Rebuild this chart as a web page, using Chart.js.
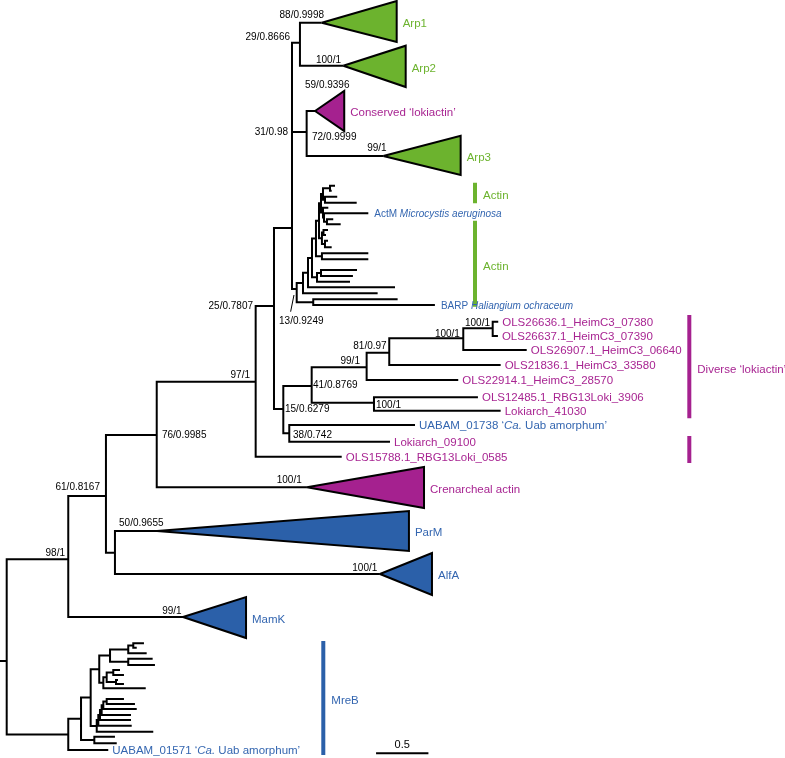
<!DOCTYPE html>
<html><head><meta charset="utf-8">
<script src="https://cdn.jsdelivr.net/npm/chart.js@4.4.1/dist/chart.umd.min.js"></script>
<style>html,body{margin:0;padding:0;background:#fff;}canvas{display:block;}</style>
</head><body>
<canvas id="c" width="785" height="758"></canvas>
<script>
// ---- DATA: nodes [id, parent, distance from root (subst./site), vertical slot] ----
const backboneNodes = [
  ['root', null, 0, 66.1],
  ['n98', 'root', 0.588, 55.93],
  ['nMB', 'root', 0.588, 73.44],
  ['n61', 'n98', 0.948, 49.6],
  ['MamK', 'n98', 1.684, 61.7],
  ['n76', 'n61', 1.433, 43.5],
  ['nPA', 'n61', 1.034, 55.27],
  ['ParM', 'nPA', 1.436, 53.1],
  ['AlfA', 'nPA', 3.565, 57.4],
  ['n97', 'n76', 2.378, 38.17],
  ['Cren', 'n76', 2.868, 48.73],
  ['nP', 'n97', 2.553, 30.6],
  ['OLS15788', 'n97', 3.200, 45.67],
  ['nQ', 'nP', 2.725, 22.8],
  ['nR', 'nP', 2.642, 40.9],
  ['n29', 'nQ', 2.801, 4.27],
  ['n31', 'nQ', 2.865, 13.2],
  ['AR', 'nQ', 2.770, 28.9],
  ['Arp1', 'n29', 3.009, 2.27],
  ['Arp2', 'n29', 3.215, 6.57],
  ['Cons', 'n31', 2.945, 11.1],
  ['Arp3', 'n31', 3.597, 15.6],
  ['n41', 'nR', 2.913, 38.6],
  ['n38', 'nR', 2.699, 43.33],
  ['n99', 'n41', 3.438, 36.73],
  ['n100b', 'n41', 3.508, 40.27],
  ['n81', 'n99', 3.654, 35.27],
  ['OLS22914', 'n99', 4.313, 38.0],
  ['n100a', 'n81', 4.361, 33.83],
  ['OLS21836', 'n81', 4.718, 36.5],
  ['n100c', 'n100a', 4.642, 32.83],
  ['OLS26907', 'n100a', 4.967, 35.0],
  ['OLS26636', 'n100c', 4.695, 32.17],
  ['OLS26637', 'n100c', 4.692, 33.6],
  ['OLS12485', 'n100b', 4.501, 39.73],
  ['Loki41030', 'n100b', 4.718, 41.07],
  ['UABAM01738', 'n38', 3.900, 42.5],
  ['Loki09100', 'n38', 3.661, 44.17]
];
const actinNodes = [
  ['A1','AR',2.830,28.3], ['BB','AR',2.928,30.22],
  ['A2','A1',2.878,27.27], ['a18','A1',3.543,29.33],
  ['a19','BB',3.734,29.93], ['BARP','BB',4.090,30.5],
  ['A3','A2',2.916,25.8], ['a17','A2',3.709,28.73],
  ['A4','A3',2.954,23.86], ['A5','A3',2.964,27.73],
  ['A6','A5',3.002,27.3], ['a16','A5',3.279,28.17],
  ['a14','A6',3.346,27.0], ['a15','A6',3.307,27.6],
  ['A7','A4',2.983,22.08], ['A8','A4',3.011,25.63],
  ['a12','A8',3.454,25.33], ['a13','A8',3.454,25.93],
  ['A9','A7',3.002,20.33], ['A10','A7',3.011,23.83],
  ['A13','A9',3.021,19.4], ['A14','A9',3.021,21.26],
  ['A15','A13',3.088,18.82], ['A16','A13',3.040,19.97],
  ['u1','A15',3.136,18.57], ['u2','A15',3.104,19.07],
  ['u3','A16',3.157,19.67], ['u4','A16',3.343,20.27],
  ['u5','A14',3.072,20.77], ['A17','A14',3.031,21.75],
  ['ActM','A17',3.454,21.33], ['A18','A17',3.059,22.18],
  ['u7','A18',3.119,21.93], ['u8','A18',3.190,22.43],
  ['A11','A10',3.026,23.25], ['A12','A10',3.040,24.4],
  ['u9','A11',3.069,23.0], ['u10','A11',3.050,23.5],
  ['u11','A12',3.069,24.07], ['u12','A12',3.104,24.73]
];
const mrebNodes = [
  ['M1','nMB',0.710,71.88], ['UABAM01571','nMB',0.970,75.0],
  ['M2','M1',0.802,69.76], ['M3','M1',0.837,74.0],
  ['m1','M3',1.034,73.67], ['m2','M3',1.051,74.33],
  ['M4','M2',0.884,66.92], ['M5','M2',0.860,72.6],
  ['M6','M4',0.987,65.56], ['M7','M4',0.923,68.28],
  ['M8','M6',1.161,64.94], ['M9','M6',1.161,66.18],
  ['M10','M8',1.209,64.55], ['m3','M10',1.311,64.33], ['m4','M10',1.242,64.77],
  ['m5','M8',1.337,65.33], ['m6','M9',1.394,65.87], ['m7','M9',1.416,66.5],
  ['M11','M7',0.955,67.73], ['m8','M7',1.328,68.83],
  ['M12','M11',1.018,67.25], ['M13','M11',1.044,68.2],
  ['m9','M12',1.082,67.0], ['m10','M12',1.120,67.5],
  ['m11','M13',1.063,68.0], ['m12','M13',1.120,68.4],
  ['M5b','M5',0.875,72.0], ['m13','M5',1.400,73.17],
  ['M14','M5b',0.891,71.5], ['m14','M5b',1.194,72.57],
  ['M15','M14',0.907,71.0], ['m15','M14',1.187,72.0],
  ['M16','M15',0.923,70.53], ['m16','M15',1.187,71.5],
  ['M17','M16',0.955,70.15], ['m17','M16',1.242,70.9],
  ['m18','M17',1.120,69.9], ['m19','M17',1.225,70.4]
];

// collapsed clades (triangles)
const cladeNames  = ['Arp1','Arp2','Conserved ‘lokiactin’','Arp3','Crenarcheal actin','ParM','AlfA','MamK'];
const cladeNodes  = ['Arp1','Arp2','Cons','Arp3','Cren','ParM','AlfA','MamK'];
const cladeDepth  = [3.725, 3.811, 3.224, 4.336, 3.986, 3.842, 4.062, 2.286];
const cladeTop    = [0.1, 4.57, 9.1, 13.57, 46.7, 51.1, 55.3, 59.7];
const cladeBottom = [4.2, 8.7, 13.1, 17.5, 50.8, 55.1, 59.5, 63.8];
const cladeGroup  = ['green','green','purple','green','purple','blue','blue','blue'];

// labelled leaves (*...* = italic)
const leafIds   = ['OLS26636','OLS26637','OLS26907','OLS21836','OLS22914','OLS12485','Loki41030','UABAM01738','Loki09100','OLS15788','ActM','BARP','UABAM01571'];
const leafText  = ['OLS26636.1_HeimC3_07380','OLS26637.1_HeimC3_07390','OLS26907.1_HeimC3_06640','OLS21836.1_HeimC3_33580','OLS22914.1_HeimC3_28570','OLS12485.1_RBG13Loki_3906','Lokiarch_41030','UABAM_01738 ‘*Ca.* Uab amorphum’','Lokiarch_09100','OLS15788.1_RBG13Loki_0585','ActM *Microcystis aeruginosa*','BARP *Haliangium ochraceum*','UABAM_01571 ‘*Ca.* Uab amorphum’'];
const leafGroup = ['purple','purple','purple','purple','purple','purple','purple','blue','purple','purple','blue','blue','blue'];

// group bars on the right
const barLabels = ['Actin','Actin','Diverse ‘lokiactin’','','MreB'];
const barX      = [4.473, 4.473, 6.520, 6.520, 3.024];
const barTop    = [18.27, 22.07, 31.5, 43.6, 64.1];
const barBottom = [20.33, 30.67, 41.83, 46.3, 75.5];
const barGroup  = ['green','green','purple','purple','blue'];

// support values (bootstrap / posterior) and their anchors
const supportText = ['88/0.9998','100/1','29/0.8666','59/0.9396','72/0.9999','31/0.98','99/1','25/0.7807','13/0.9249','97/1','76/0.9985','61/0.8167','98/1','50/0.9655','100/1','100/1','99/1','15/0.6279','41/0.8769','99/1','81/0.97','100/1','100/1','100/1','38/0.742'];
const supportX    = [3.031,3.193,2.706,2.849,2.916,2.687,3.629,2.353,2.601,2.324,1.483,0.891,0.557,1.073,2.818,3.540,1.671,2.658,2.926,3.374,3.629,4.329,4.616,3.527,2.735];
const supportY    = [1.5,6.07,3.75,8.5,13.77,13.23,14.8,30.6,32.17,37.5,43.5,48.73,55.3,52.33,48.07,56.83,61.17,40.93,38.5,36.17,34.6,33.4,32.33,40.5,43.5];
const supportSide = ['r','r','r','l','l','r','r','r','l','r','l','r','r','l','r','r','r','l','l','r','r','r','r','l','l'];
const pointerLine = [[2.712,31.17],[2.744,29.5]];

// scale bar
const scaleBarStart = 3.528, scaleBarLength = 0.5, scaleBarSlot = 75.33, scaleBarText = '0.5';
const rootStubStart = -0.064;

// ---- STYLE ----
const colors = {green:'#6cb32e', purple:'#a5218f', blue:'#2b60a9'};
const textColors = {green:'#6cb32e', purple:'#a82592', blue:'#3466b0'};
const FONT = '"Liberation Sans", Arial, Helvetica, sans-serif';
const LABEL_SIZE = 11.5;

// ---- BUILD ----
const allNodes = backboneNodes.concat(actinNodes, mrebNodes);
const byId = {};
allNodes.forEach(n => { byId[n[0]] = {x:n[2], y:n[3]}; });
const branchData = [];
allNodes.forEach(n => {
  if (!n[1]) return;
  const p = byId[n[1]];
  branchData.push({x:p.x,y:p.y},{x:p.x,y:n[3]},{x:n[2],y:n[3]},{x:n[2],y:null});
});
branchData.push({x:rootStubStart,y:byId.root.y},{x:0,y:byId.root.y});

const datasets = [];
cladeNodes.forEach((id,i) => {
  const t = byId[id];
  datasets.push({
    data:[{x:t.x,y:t.y},{x:cladeDepth[i],y:cladeTop[i]},{x:cladeDepth[i],y:cladeBottom[i]},{x:t.x,y:t.y}],
    borderColor:'#000', borderWidth:2, backgroundColor:colors[cladeGroup[i]], fill:'shape',
    borderJoinStyle:'miter', pointRadius:0, order:0
  });
});
datasets.push({data:branchData, borderColor:'#000', borderWidth:2, fill:false, spanGaps:false,
  borderJoinStyle:'miter', borderCapStyle:'butt', pointRadius:0, order:1});
barX.forEach((x,i) => {
  datasets.push({data:[{x:x,y:barTop[i]},{x:x,y:barBottom[i]}], borderColor:colors[barGroup[i]],
    borderWidth:4, fill:false, pointRadius:0, order:1, borderCapStyle:'butt'});
});
datasets.push({data:[{x:scaleBarStart,y:scaleBarSlot},{x:scaleBarStart+scaleBarLength,y:scaleBarSlot}],
  borderColor:'#000', borderWidth:2, fill:false, pointRadius:0, order:1});
datasets.push({data:pointerLine.map(p=>({x:p[0],y:p[1]})), borderColor:'#000', borderWidth:1, fill:false, pointRadius:0, order:1});

function drawRich(ctx, str, x, y, size, color) {
  const parts = str.split('*');
  let cx = x;
  ctx.fillStyle = color; ctx.textAlign = 'left'; ctx.textBaseline = 'middle';
  parts.forEach((p,i) => {
    if (!p) return;
    ctx.font = (i % 2 ? 'italic ' : '') + size + 'px ' + FONT;
    ctx.fillText(p, cx, y);
    cx += ctx.measureText(p).width;
  });
}

const labelPlugin = {
  id:'treeLabels',
  afterDatasetsDraw(chart) {
    const ctx = chart.ctx, xs = chart.scales.x, ys = chart.scales.y;
    ctx.save();
    cladeNames.forEach((name,i) => {
      const y = (ys.getPixelForValue(cladeTop[i]) + ys.getPixelForValue(cladeBottom[i])) / 2;
      drawRich(ctx, name, xs.getPixelForValue(cladeDepth[i]) + 6, y + 2, LABEL_SIZE, textColors[cladeGroup[i]]);
    });
    leafIds.forEach((id,i) => {
      const n = byId[id];
      const small = (id === 'ActM' || id === 'BARP');
      drawRich(ctx, leafText[i], xs.getPixelForValue(n.x) + (small ? 6 : 4), ys.getPixelForValue(n.y) + 1, small ? 10 : LABEL_SIZE, textColors[leafGroup[i]]);
    });
    barLabels.forEach((t,i) => {
      if (!t) return;
      const y = (ys.getPixelForValue(barTop[i]) + ys.getPixelForValue(barBottom[i])) / 2;
      drawRich(ctx, t, xs.getPixelForValue(barX[i]) + 8, y + 3, LABEL_SIZE, textColors[barGroup[i]]);
    });
    ctx.fillStyle = '#000'; ctx.font = '10px ' + FONT; ctx.textBaseline = 'middle';
    supportText.forEach((t,i) => {
      ctx.textAlign = supportSide[i] === 'r' ? 'right' : 'left';
      ctx.fillText(t, xs.getPixelForValue(supportX[i]), ys.getPixelForValue(supportY[i]));
    });
    ctx.textAlign = 'center'; ctx.font = '11px ' + FONT;
    ctx.fillText(scaleBarText, xs.getPixelForValue(scaleBarStart + scaleBarLength/2), ys.getPixelForValue(scaleBarSlot) - 8);
    ctx.restore();
  }
};

new Chart(document.getElementById('c'), {
  type:'line',
  data:{datasets:datasets},
  options:{
    responsive:false, animation:false, events:[],
    layout:{padding:0},
    plugins:{legend:{display:false}, tooltip:{enabled:false}},
    elements:{point:{radius:0}, line:{tension:0}},
    scales:{
      x:{type:'linear', min:rootStubStart, max:7.434, display:false},
      y:{type:'linear', min:0, max:75.8, reverse:true, display:false}
    }
  },
  plugins:[labelPlugin]
});
</script></body></html>
